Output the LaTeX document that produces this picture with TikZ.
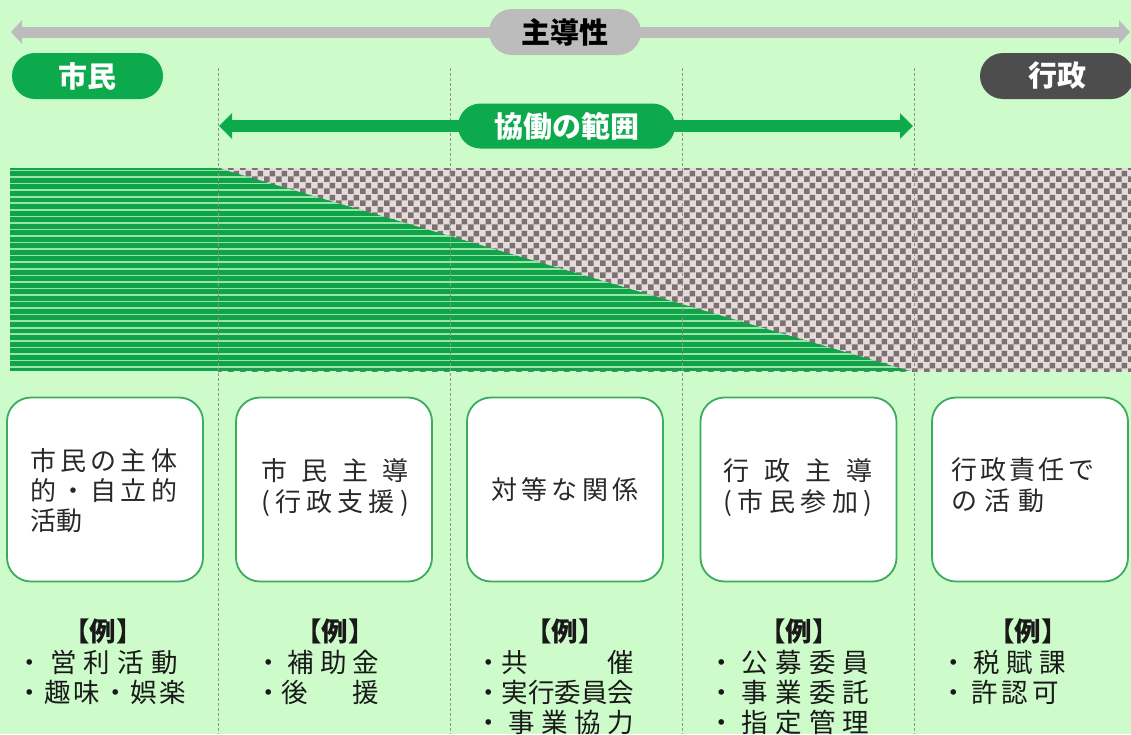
\documentclass[tikz,border=0pt]{standalone}
\usepackage{fontspec}
\setmainfont{Noto Sans CJK JP}
\usetikzlibrary{arrows.meta,patterns.meta,shapes.misc}

\definecolor{bg}{RGB}{205,252,202}
\definecolor{pgreen}{RGB}{12,170,76}
\definecolor{sgreen}{RGB}{16,163,74}
\definecolor{sline}{RGB}{150,230,165}
\definecolor{bgreen}{RGB}{60,170,95}
\definecolor{garr}{RGB}{188,188,188}
\definecolor{dpill}{RGB}{77,77,77}
\definecolor{chkdark}{RGB}{122,114,114}
\definecolor{chklight}{RGB}{230,218,218}
\definecolor{txt}{RGB}{40,40,40}
\definecolor{dashc}{RGB}{140,150,140}

\makeatletter
\newcommand\spreadline[2]{\makebox[#1][s]{\let\spr@sep\relax\@tfor\spr@c:=#2\do{\spr@sep\spr@c\def\spr@sep{\hfil}}}}
\makeatother

\tikzdeclarepattern{
  name=chk, type=uncolored,
  bounding box={(0pt,0pt) and (12pt,12pt)},
  tile size={(12pt,12pt)},
  code={\fill (0pt,0pt) rectangle (6pt,6pt); \fill (6pt,6pt) rectangle (12pt,12pt);}
}

\tikzset{
  pill/.style={rounded rectangle, inner sep=0pt, minimum height=46pt, font=\fontsize{29}{29}\selectfont\bfseries},
  divider/.style={dashc, line width=0.8pt, dash pattern=on 3pt off 2pt},
  card/.style={draw=bgreen, line width=1.8pt, fill=white, rounded corners=24pt, minimum width=196pt, minimum height=184pt, inner sep=0pt},
  boxtxt/.style={inner sep=0pt, text=txt, font=\fontsize{26}{26}\selectfont},
  extxt/.style={inner sep=0pt, text=black!90, font=\fontsize{26.5}{26.5}\selectfont},
  exhead/.style={inner sep=0pt, text=black!90, font=\fontsize{26.5}{26.5}\selectfont\bfseries},
}

\begin{document}
\begin{tikzpicture}[x=1pt,y=-1pt]
\useasboundingbox (0,0) rectangle (1131,734);
\fill[bg] (0,0) rectangle (1131,734);

% top gray arrow and pill
\coordinate (gl) at (11,32);
\coordinate (gr) at (1130,32);
\draw[garr, line width=11pt, {Triangle[width=23pt,length=11pt]}-{Triangle[width=23pt,length=11pt]}] (gl) -- (gr);
\node[pill, fill=garr, minimum width=152pt, text=black] (lead) at (565,32) {主導性};

% side pills
\node[pill, fill=pgreen, minimum width=151pt, text=white] (shimin) at (87.5,76) {市民};
\node[pill, fill=dpill, minimum width=154pt, text=white] (gyosei) at (1057,76) {行政};

% checker and stripes
\fill[chklight] (218,168) rectangle (1131,371);
\fill[pattern=chk, pattern color=chkdark] (218,168) rectangle (1131,371);
\begin{scope}
  \clip (10,168) -- (218,168) -- (910,371) -- (10,371) -- cycle;
  \fill[sgreen] (10,168) rectangle (910,371);
  \foreach \i in {0,...,31} \draw[sline, line width=1.6pt] (10,{170.5+\i*6.55}) -- (910,{170.5+\i*6.55});
\end{scope}

% dividers
\foreach \n/\x in {1/218,2/450,3/682,4/914}{
  \coordinate (d\n t) at (\x,68);
  \coordinate (d\n b) at (\x,734);
  \draw[divider] (d\n t) -- (d\n b);
}

% green arrow and pill
\coordinate (kl) at (219,126);
\coordinate (kr) at (913,126);
\draw[pgreen, line width=12pt, {Triangle[width=25pt,length=13pt]}-{Triangle[width=25pt,length=13pt]}] (kl) -- (kr);
\node[pill, fill=pgreen, minimum width=217pt, minimum height=45pt, text=white] (kyodo) at (566.5,126) {協働の範囲};

% cards
\node[card] (b1) at (105,489.5) {};
\node[card] (b2) at (334,489.5) {};
\node[card] (b3) at (565,489.5) {};
\node[card] (b4) at (798.5,489.5) {};
\node[card] (b5) at (1030,489.5) {};

\node[boxtxt, anchor=west] (t1a) at (30,461) {\spreadline{147pt}{市民の主体}};
\node[boxtxt, anchor=west] (t1b) at (30,491) {\spreadline{147pt}{的・自立的}};
\node[boxtxt, anchor=west] (t1c) at (30,521) {活動};
\node[boxtxt] (t2a) at (335,471) {\spreadline{148pt}{市民主導}};
\node[boxtxt] (t2b) at (335,503) {\spreadline{148pt}{(行政支援)}};
\node[boxtxt] (t3) at (565,490) {\spreadline{147pt}{対等な関係}};
\node[boxtxt] (t4a) at (798,471) {\spreadline{149pt}{行政主導}};
\node[boxtxt] (t4b) at (798,503) {\spreadline{149pt}{(市民参加)}};
\node[boxtxt, anchor=west] (t5a) at (951,470) {\spreadline{143pt}{行政責任で}};
\node[boxtxt, anchor=west] (t5b) at (951,501) {\spreadline{93pt}{の活動}};

% examples
\node[exhead] (h1) at (103,631) {【例】};
\node[exhead] (h2) at (335,631) {【例】};
\node[exhead] (h3) at (565,631) {【例】};
\node[exhead] (h4) at (799,631) {【例】};
\node[exhead] (h5) at (1028,631) {【例】};

\node[extxt, anchor=west] (e1a) at (16,662) {\spreadline{162pt}{・営利活動}};
\node[extxt, anchor=west] (e1b) at (16,692) {\spreadline{170pt}{・趣味・娯楽}};
\node[extxt, anchor=west] (e2a) at (255,662) {\spreadline{124pt}{・補助金}};
\node[extxt, anchor=west] (e2b) at (255,692) {\makebox[124pt][s]{・後\hfil 援}};
\node[extxt, anchor=west] (e3a) at (475,662) {\makebox[159pt][s]{・共\hfil 催}};
\node[extxt, anchor=west] (e3b) at (475,692) {\spreadline{159pt}{・実行委員会}};
\node[extxt, anchor=west] (e3c) at (475,722) {\spreadline{159pt}{・事業協力}};
\node[extxt, anchor=west] (e4a) at (708,662) {\spreadline{161pt}{・公募委員}};
\node[extxt, anchor=west] (e4b) at (708,692) {\spreadline{161pt}{・事業委託}};
\node[extxt, anchor=west] (e4c) at (708,722) {\spreadline{161pt}{・指定管理}};
\node[extxt, anchor=west] (e5a) at (940,662) {\spreadline{126pt}{・税賦課}};
\node[extxt, anchor=west] (e5b) at (940,692) {\spreadline{119pt}{・許認可}};
\end{tikzpicture}
\end{document}
